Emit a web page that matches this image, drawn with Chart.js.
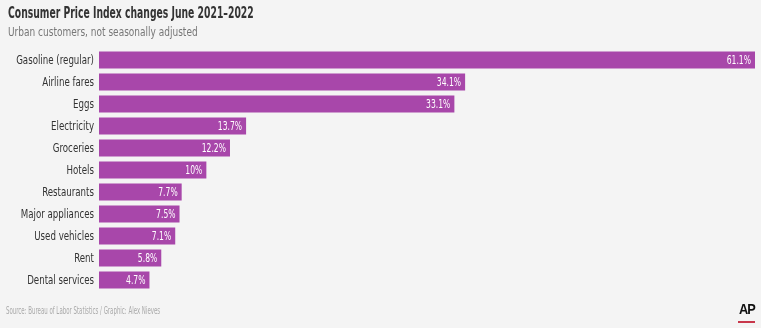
<!DOCTYPE html>
<html>
<head>
<meta charset="utf-8">
<script src="https://cdn.jsdelivr.net/npm/chart.js@4.4.0/dist/chart.umd.min.js"></script>
<style>
  body { margin: 0; background: #f4f4f4; font-family: "DejaVu Sans Condensed", sans-serif; }
  #wrap { position: relative; width: 761px; height: 328px; }
  .txt { position: absolute; white-space: nowrap; transform-origin: left top; }
  #title { left: 8px; top: 4px; font-size: 15px; font-weight: bold; color: #333; transform: scaleX(0.685); }
  #sub { left: 8px; top: 24px; font-size: 12.5px; color: #777; transform: scaleX(0.8); }
  #source { left: 6px; top: 304px; font-size: 11px; color: #aaa; transform: scaleX(0.55); }
  #ap { position: absolute; left: 739px; top: 300px; font-size: 15px; font-weight: bold; color: #111; font-family: "Liberation Sans", sans-serif; letter-spacing: -1px; transform: scaleX(0.85); transform-origin: left top; }
  #apline { position: absolute; left: 738px; top: 321px; width: 17px; height: 2px; background: #c8374b; }
  canvas { position: absolute; left: 0; top: 0; }
</style>
</head>
<body>
<div id="wrap">
  <canvas id="chart" width="761" height="328"></canvas>
  <div id="title" class="txt">Consumer Price Index changes June 2021–2022</div>
  <div id="sub" class="txt">Urban customers, not seasonally adjusted</div>
  <div id="source" class="txt">Source: Bureau of Labor Statistics / Graphic: Alex Nieves</div>
  <div id="ap">AP</div>
  <div id="apline"></div>
</div>
<script>
// ====== DATA ======
const kategori = [
  "Gasoline (regular)", "Airline fares", "Eggs", "Electricity", "Groceries", "Hotels",
  "Restaurants", "Major appliances", "Used vehicles", "Rent", "Dental services"
];
const nilai = [61.1, 34.1, 33.1, 13.7, 12.2, 10, 7.7, 7.5, 7.1, 5.8, 4.7];
const labelNilai = ["61.1%", "34.1%", "33.1%", "13.7%", "12.2%", "10%", "7.7%", "7.5%", "7.1%", "5.8%", "4.7%"];

const fontNarrow = "'DejaVu Sans Condensed', sans-serif";

// teks sempit: gambar dengan skala horizontal
function teksSempit(ctx, teks, x, y, sx) {
  ctx.save();
  ctx.translate(x, y);
  ctx.scale(sx, 1);
  ctx.fillText(teks, 0, 0);
  ctx.restore();
}

// label kategori + label angka
const labelPlugin = {
  id: "labelNilai",
  afterDatasetsDraw(chart) {
    const ctx = chart.ctx;
    const meta = chart.getDatasetMeta(0);
    const yScale = chart.scales.y;
    ctx.save();
    ctx.textAlign = "right";
    ctx.textBaseline = "middle";

    ctx.font = "13px " + fontNarrow;
    ctx.fillStyle = "#333";
    kategori.forEach((k, i) => {
      teksSempit(ctx, k, yScale.right - 5, yScale.getPixelForTick(i) + 1, 0.74);
    });

    ctx.font = "12.5px " + fontNarrow;
    ctx.fillStyle = "#fff";
    meta.data.forEach((bar, i) => {
      teksSempit(ctx, labelNilai[i], bar.x - 4, bar.y + 1, 0.68);
    });
    ctx.restore();
  }
};

new Chart(document.getElementById("chart"), {
  type: "bar",
  data: {
    labels: kategori,
    datasets: [{
      data: nilai,
      backgroundColor: "#a847aa",
      borderWidth: 0,
      categoryPercentage: 1,
      barPercentage: 0.78
    }]
  },
  options: {
    indexAxis: "y",
    responsive: false,
    animation: false,
    layout: { padding: { top: 49, bottom: 37, right: 6, left: 0 } },
    plugins: { legend: { display: false }, tooltip: { enabled: false } },
    scales: {
      x: { display: false, min: 0, max: 61.1 },
      y: {
        grid: { display: false },
        border: { display: false },
        afterFit: (s) => { s.width = 99; },
        ticks: { display: false }
      }
    }
  },
  plugins: [labelPlugin]
});
</script>
</body>
</html>
